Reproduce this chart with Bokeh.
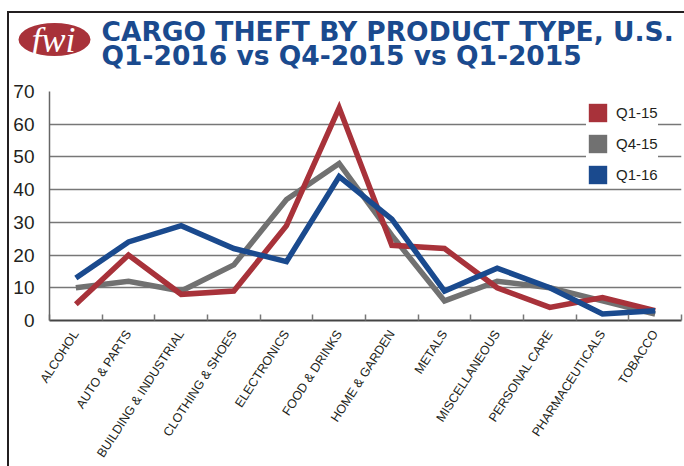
import math
from bokeh.plotting import figure
from bokeh.layouts import column
from bokeh.models import (Range1d, FixedTicker, SingleIntervalTicker, LinearAxis,
                          Legend, LegendItem)
from bokeh.core.properties import value
from bokeh.embed import file_html
from bokeh.resources import INLINE

# ---- data ----
categories = ["ALCOHOL", "AUTO & PARTS", "BUILDING & INDUSTRIAL", "CLOTHING & SHOES",
              "ELECTRONICS", "FOOD & DRINKS", "HOME & GARDEN", "METALS",
              "MISCELLANEOUS", "PERSONAL CARE", "PHARMACEUTICALS", "TOBACCO"]
q1_15 = [5, 20, 8, 9, 29, 65, 23, 22, 10, 4, 7, 3]
q4_15 = [10, 12, 9, 17, 37, 48, 26, 6, 12, 10, 6, 2]
q1_16 = [13, 24, 29, 22, 18, 44, 31, 9, 16, 10, 2, 3]
series_names = ["Q1-15", "Q4-15", "Q1-16"]
title_lines = ["CARGO THEFT BY PRODUCT TYPE, U.S.", "Q1-2016 vs Q4-2015 vs Q1-2015"]
logo_text = "fwi"
y_max = 70

RED = "#a8323a"
GRAY = "#717171"
BLUE = "#1a4a8e"
TXT = "#231f20"
NAN = float("nan")

n = len(categories)
xc = [i + 0.5 for i in range(n)]

W = 675
HH = 66           # header height
H = 453 - HH      # chart height

# ---------------- header (logo + two-line title) ----------------
hdr = figure(width=W, height=HH, output_backend="svg", toolbar_location=None,
             title=None, x_range=Range1d(0, W), y_range=Range1d(HH, 0),
             x_axis_type=None, y_axis_type=None, min_border=0,
             min_border_left=0, min_border_right=0, min_border_top=0, min_border_bottom=0)
hdr.outline_line_color = None
hdr.grid.visible = False
hdr.ellipse(x=[45], y=[26], width=[72], height=[33], fill_color=RED, line_color=None)
hdr.text(x=[44], y=[26], text=[logo_text], text_font=value("Liberation Serif"),
         text_font_style="italic", text_font_size="36px", text_color="white",
         text_align="center", text_baseline="middle")
hdr.text(x=[92, 92], y=[18, 42], text=title_lines, text_font=value("DejaVu Sans"),
         text_font_style="bold", text_font_size="26.5px", text_color=BLUE,
         text_align="left", text_baseline="middle")

# ---------------- chart ----------------
p = figure(width=W, height=H, output_backend="svg", toolbar_location=None,
           x_range=Range1d(0, n), y_range=Range1d(0, y_max),
           x_axis_type=None, min_border_left=40, min_border_right=3,
           min_border_top=12, min_border_bottom=144)
p.outline_line_color = None

for fig in (hdr, p):
    if "frame_align" in fig.properties():
        fig.frame_align = False

xaxis = LinearAxis(ticker=FixedTicker(ticks=xc, minor_ticks=list(range(n + 1))))
xaxis.major_label_overrides = {c: lab for c, lab in zip(xc, categories)}
xaxis.major_tick_line_color = None
xaxis.minor_tick_in = 6
xaxis.minor_tick_out = 0
xaxis.minor_tick_line_color = "#777777"
xaxis.minor_tick_line_width = 1.5
xaxis.axis_line_color = "#444444"
xaxis.axis_line_width = 2
xaxis.major_label_orientation = math.radians(57)
xaxis.major_label_text_font = "Liberation Sans"
xaxis.major_label_text_font_size = "12.5px"
xaxis.major_label_text_color = TXT
xaxis.major_label_standoff = 5
p.add_layout(xaxis, "below")

yaxis = p.yaxis[0]
yaxis.ticker = SingleIntervalTicker(interval=10)
yaxis.major_tick_line_color = None
yaxis.minor_tick_line_color = None
yaxis.axis_line_color = "#666666"
yaxis.axis_line_width = 1.5
yaxis.major_label_text_font = "Liberation Sans"
yaxis.major_label_text_font_size = "19px"
yaxis.major_label_text_color = TXT
yaxis.major_label_standoff = 9

p.xgrid.grid_line_color = None
p.ygrid.grid_line_color = "#777777"
p.ygrid.grid_line_width = 1.5
p.ygrid.ticker = SingleIntervalTicker(interval=10)

r_gray = p.line(xc, q4_15, line_color=GRAY, line_width=5.5, line_join="miter")
r_red = p.line(xc, q1_15, line_color=RED, line_width=5.5, line_join="miter")
r_blue = p.line(xc, q1_16, line_color=BLUE, line_width=5.5, line_join="miter")

# square swatches for the legend (no visible mark in the plot)
sw = [p.quad(left=[NAN], right=[NAN], top=[NAN], bottom=[NAN], fill_color=c, line_color=None)
      for c in (RED, GRAY, BLUE)]

legend = Legend(items=[LegendItem(label=nm, renderers=[r]) for nm, r in zip(series_names, sw)],
                location=(537, 134), margin=0, padding=5, spacing=8,
                glyph_width=23, glyph_height=23, label_standoff=7,
                background_fill_color="white", background_fill_alpha=1.0,
                border_line_color=None,
                label_text_font="Liberation Sans", label_text_font_size="15px",
                label_text_color=TXT)
p.add_layout(legend)

layout = column(hdr, p, spacing=0)
layout.styles = {"margin-left": "7px", "margin-top": "11px",
                 "border-left": "2px solid #231f20", "border-top": "2px solid #231f20",
                 "background-color": "white"}

open("out.html", "w").write(file_html(layout, INLINE))
